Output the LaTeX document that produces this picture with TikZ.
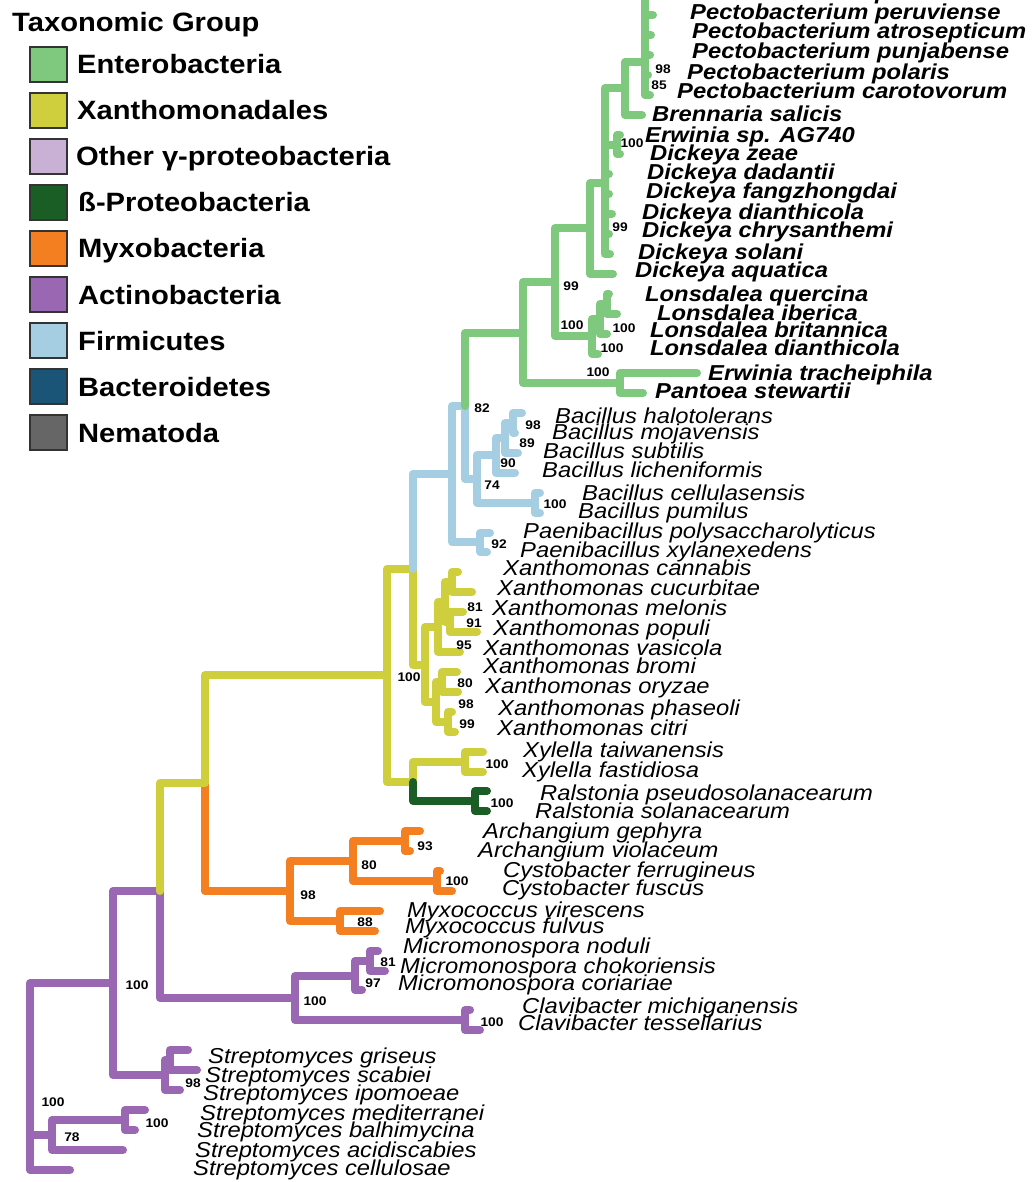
\documentclass[tikz,border=0pt]{standalone}
\usepackage{fontspec}
\setmainfont{Liberation Sans}[FakeStretch=1.1]
\usepackage{tikz}
\usetikzlibrary{positioning}

\definecolor{entero}{HTML}{7FC97F}
\definecolor{xantho}{HTML}{CFCF3E}
\definecolor{othgam}{HTML}{C9B1D6}
\definecolor{betap}{HTML}{1B5E25}
\definecolor{myxo}{HTML}{F47F21}
\definecolor{actino}{HTML}{9A67B3}
\definecolor{firmi}{HTML}{A6CEE3}
\definecolor{bactero}{HTML}{1A5577}
\definecolor{nemat}{HTML}{666666}

\begin{document}
\begin{tikzpicture}[x=1pt, y=-1pt,
  br/.style={line width=8pt, line cap=round, line join=round},
  sup/.style={font=\fontsize{12.5}{13}\selectfont\bfseries, inner sep=0pt},
  tx/.style={anchor=base west, inner sep=0pt, font=\fontsize{21.6}{24}\selectfont\itshape},
  txb/.style={tx, font=\fontsize{21.6}{24}\selectfont\bfseries\itshape},
  key/.style={draw=black!80, line width=2pt, minimum width=37pt, minimum height=35pt, inner sep=0pt},
  keylab/.style={anchor=base west, inner sep=0pt, font=\fontsize{26.5}{30}\selectfont\bfseries},
]
\useasboundingbox (0,0) rectangle (1033,1182);

% legend
\node[keylab, anchor=base west] (ttl) at (12,32) {Taxonomic Group};
\node[key, fill=entero] (k1) at (48.5,64.5) {};
\node[key, fill=xantho,  below=9pt of k1] (k2) {};
\node[key, fill=othgam,  below=9pt of k2] (k3) {};
\node[key, fill=betap,   below=9pt of k3] (k4) {};
\node[key, fill=myxo,    below=9pt of k4] (k5) {};
\node[key, fill=actino,  below=9pt of k5] (k6) {};
\node[key, fill=firmi,   below=9pt of k6] (k7) {};
\node[key, fill=bactero, below=9pt of k7] (k8) {};
\node[key, fill=nemat,   below=9pt of k8] (k9) {};
\node[keylab] (l1) at ([xshift=9pt, yshift=-9.5pt]k1.east) {Enterobacteria};
\node[keylab] (l2) at ([xshift=9pt, yshift=-9.5pt]k2.east) {Xanthomonadales};
\node[keylab] (l3) at ([xshift=8pt, yshift=-9.5pt]k3.east) {Other γ-proteobacteria};
\node[keylab] (l4) at ([xshift=10pt, yshift=-9.5pt]k4.east) {ß-Proteobacteria};
\node[keylab] (l5) at ([xshift=10pt, yshift=-9.5pt]k5.east) {Myxobacteria};
\node[keylab] (l6) at ([xshift=10pt, yshift=-9.5pt]k6.east) {Actinobacteria};
\node[keylab] (l7) at ([xshift=10pt, yshift=-9.5pt]k7.east) {Firmicutes};
\node[keylab] (l8) at ([xshift=10pt, yshift=-9.5pt]k8.east) {Bacteroidetes};
\node[keylab] (l9) at ([xshift=10pt, yshift=-9.5pt]k9.east) {Nematoda};

% tree: each child is drawn from its parent with |-
\draw[br, actino]
  (30,1096) |- (113,983)  (30,1096) |- (52,1135)  (30,1096) |- (70,1170)
  (52,1135) |- (125,1120) (52,1135) |- (123,1150)
  (125,1120) |- (145,1110) (125,1120) |- (135,1130)
  (113,983) |- (160,891)  (113,983) |- (165,1075)
  (165,1075) |- (170,1060) (165,1075) |- (180,1090)
  (170,1060) |- (188,1050) (170,1060) |- (197,1070)
  (160,891) |- (295,998)
  (295,998) |- (355,976)  (295,998) |- (465,1020)
  (355,976) |- (370,961)  (355,976) |- (362,990)
  (370,961) |- (378,951)  (370,961) |- (385,971)
  (465,1020) |- (470,1010) (465,1020) |- (480,1030);
\draw[br, myxo]
  (205,783) |- (290,891)
  (290,891) |- (353,861)  (290,891) |- (340,921)
  (353,861) |- (405,841)  (353,861) |- (437,881)
  (405,841) |- (420,831)  (405,841) |- (410,851)
  (437,881) |- (440,871)  (437,881) |- (452,891)
  (340,921) |- (380,911)  (340,921) |- (375,931);
\draw[br, xantho]
  (160,891) |- (205,783)
  (205,783) |- (387,675)
  (387,675) |- (413,569)  (387,675) |- (413,782)
  (413,782) |- (465,762)
  (465,762) |- (483,752)  (465,762) |- (483,772)
  (413,569) |- (425,665)
  (425,665) |- (438,627)  (425,665) |- (436,702)
  (438,627) |- (445,602)  (438,627) |- (460,652)
  (445,602) |- (452,582)  (445,602) |- (450,622)
  (452,582) |- (458,572)  (452,582) |- (472,592)
  (450,622) |- (463,612)  (450,622) |- (477,632)
  (436,702) |- (442,682)  (436,702) |- (448,722)
  (442,682) |- (457,672)  (442,682) |- (458,692)
  (448,722) |- (452,712)  (448,722) |- (455,732);
\draw[br, betap]
  (413,782) |- (475,801)
  (475,801) |- (487,791)  (475,801) |- (487,811);
\draw[br, firmi]
  (413,569) |- (452,474)
  (452,474) |- (465,406)  (452,474) |- (480,542)
  (480,542) |- (490,533)  (480,542) |- (487,552)
  (465,406) |- (477,479)
  (477,479) |- (496,455)  (477,479) |- (535,503)
  (496,455) |- (505,438)  (496,455) |- (515,473)
  (505,438) |- (513,423)  (505,438) |- (518,453)
  (513,423) |- (522,413)  (513,423) |- (515,433)
  (535,503) |- (540,493)  (535,503) |- (540,513);
\draw[br, entero]
  (465,406) |- (523,333)
  (523,333) |- (555,282)  (523,333) |- (620,383)
  (620,383) |- (697,373)  (620,383) |- (643,393)
  (555,282) |- (590,228)  (555,282) |- (592,336)
  (592,336) |- (600,319)  (592,336) |- (598,354)
  (600,319) |- (607,304)  (600,319) |- (607,334)
  (607,304) |- (609,294)  (607,304) |- (617,314)
  (590,228) |- (605,183)  (590,228) |- (613,274)
  (605,183) |- (625,88)   (605,183) |- (617,145)
  (605,183) |- (609,174)  (605,183) |- (609,194)
  (605,183) |- (612,214)  (605,183) |- (609,234)
  (605,183) |- (610,254)
  (617,145) |- (620,135)  (617,145) |- (620,154)
  (625,88) |- (645,62)    (625,88) |- (642,115)
  (645,62) |- (650,-15)   (645,62) |- (653,15)
  (645,62) |- (651,35)    (645,62) |- (650,55)
  (645,62) |- (648,75)    (645,62) |- (650,95);

% support values
\node[sup] (b1) at (663,69) {98};
\node[sup] (b2) at (659,85) {85};
\node[sup] (b3) at (632,143) {100};
\node[sup] (b4) at (620,227) {99};
\node[sup] (b5) at (571,286) {99};
\node[sup] (b6) at (572,325) {100};
\node[sup] (b7) at (624,328) {100};
\node[sup] (b8) at (612,348) {100};
\node[sup] (b9) at (598,372) {100};
\node[sup] (b10) at (482,408) {82};
\node[sup] (b11) at (533,425) {98};
\node[sup] (b12) at (527,443) {89};
\node[sup] (b13) at (508,463) {90};
\node[sup] (b14) at (492,485) {74};
\node[sup] (b15) at (555,504) {100};
\node[sup] (b16) at (499,544) {92};
\node[sup] (b17) at (475,607) {81};
\node[sup] (b18) at (474,623) {91};
\node[sup] (b19) at (464,645) {95};
\node[sup] (b20) at (409,677) {100};
\node[sup] (b21) at (465,683) {80};
\node[sup] (b22) at (466,704) {98};
\node[sup] (b23) at (467,724) {99};
\node[sup] (b24) at (497,764) {100};
\node[sup] (b25) at (502,803) {100};
\node[sup] (b26) at (425,846) {93};
\node[sup] (b27) at (369,865) {80};
\node[sup] (b28) at (457,881) {100};
\node[sup] (b29) at (308,895) {98};
\node[sup] (b30) at (365,922) {88};
\node[sup] (b31) at (388,962) {81};
\node[sup] (b32) at (373,983) {97};
\node[sup] (b33) at (315,1001) {100};
\node[sup] (b34) at (492,1022) {100};
\node[sup] (b35) at (137,985) {100};
\node[sup] (b36) at (193,1083) {98};
\node[sup] (b37) at (53,1102) {100};
\node[sup] (b38) at (157,1123) {100};
\node[sup] (b39) at (72,1137) {78};

% tip labels
\node[txb] (pparm) at (690,0) {Pectobacterium parmentieri};
\node[txb] (pperu) at (690,20) {Pectobacterium peruviense};
\node[txb] (patro) at (692,39) {Pectobacterium atrosepticum};
\node[txb] (ppunj) at (692,59) {Pectobacterium punjabense};
\node[txb] (ppola) at (687,80) {Pectobacterium polaris};
\node[txb] (pcaro) at (677,99) {Pectobacterium carotovorum};
\node[txb] (bsali) at (652,122) {Brennaria salicis};
\node[txb] (eag74) at (645,143) {Erwinia sp. AG740};
\node[txb] (dzeae) at (650,161) {Dickeya zeae};
\node[txb] (ddada) at (647,180) {Dickeya dadantii};
\node[txb] (dfang) at (646,199) {Dickeya fangzhongdai};
\node[txb] (ddian) at (642,220) {Dickeya dianthicola};
\node[txb] (dchry) at (642,238) {Dickeya chrysanthemi};
\node[txb] (dsola) at (638,259) {Dickeya solani};
\node[txb] (daqua) at (635,277) {Dickeya aquatica};
\node[txb] (lquer) at (645,301) {Lonsdalea quercina};
\node[txb] (liber) at (657,320) {Lonsdalea iberica};
\node[txb] (lbrit) at (650,337) {Lonsdalea britannica};
\node[txb] (ldian) at (650,355) {Lonsdalea dianthicola};
\node[txb] (etrac) at (708,380) {Erwinia tracheiphila};
\node[txb] (pstew) at (655,398) {Pantoea stewartii};
\node[tx] (bhalo) at (555,423) {Bacillus halotolerans};
\node[tx] (bmoja) at (552,439) {Bacillus mojavensis};
\node[tx] (bsubt) at (543,458) {Bacillus subtilis};
\node[tx] (blich) at (542,477) {Bacillus licheniformis};
\node[tx] (bcell) at (582,500) {Bacillus cellulasensis};
\node[tx] (bpumi) at (578,518) {Bacillus pumilus};
\node[tx] (ppoly) at (523,538) {Paenibacillus polysaccharolyticus};
\node[tx] (pxyla) at (520,557) {Paenibacillus xylanexedens};
\node[tx] (xcann) at (503,575) {Xanthomonas cannabis};
\node[tx] (xcucu) at (497,595) {Xanthomonas cucurbitae};
\node[tx] (xmelo) at (492,615) {Xanthomonas melonis};
\node[tx] (xpopu) at (493,635) {Xanthomonas populi};
\node[tx] (xvasi) at (483,655) {Xanthomonas vasicola};
\node[tx] (xbrom) at (483,673) {Xanthomonas bromi};
\node[tx] (xoryz) at (485,693) {Xanthomonas oryzae};
\node[tx] (xphas) at (498,715) {Xanthomonas phaseoli};
\node[tx] (xcitr) at (497,735) {Xanthomonas citri};
\node[tx] (ytaiw) at (523,757) {Xylella taiwanensis};
\node[tx] (yfast) at (522,777) {Xylella fastidiosa};
\node[tx] (rpseu) at (540,800) {Ralstonia pseudosolanacearum};
\node[tx] (rsola) at (535,818) {Ralstonia solanacearum};
\node[tx] (ageph) at (483,838) {Archangium gephyra};
\node[tx] (aviol) at (478,857) {Archangium violaceum};
\node[tx] (cferr) at (503,877) {Cystobacter ferrugineus};
\node[tx] (cfusc) at (502,895) {Cystobacter fuscus};
\node[tx] (mvire) at (407,917) {Myxococcus virescens};
\node[tx] (mfulv) at (405,933) {Myxococcus fulvus};
\node[tx] (mnodu) at (403,953) {Micromonospora noduli};
\node[tx] (mchok) at (400,973) {Micromonospora chokoriensis};
\node[tx] (mcori) at (398,990) {Micromonospora coriariae};
\node[tx] (cmich) at (522,1013) {Clavibacter michiganensis};
\node[tx] (ctess) at (518,1030) {Clavibacter tessellarius};
\node[tx] (sgris) at (208,1063) {Streptomyces griseus};
\node[tx] (sscab) at (205,1082) {Streptomyces scabiei};
\node[tx] (sipom) at (203,1100) {Streptomyces ipomoeae};
\node[tx] (smedi) at (200,1120) {Streptomyces mediterranei};
\node[tx] (sbalh) at (197,1137) {Streptomyces balhimycina};
\node[tx] (sacid) at (195,1157) {Streptomyces acidiscabies};
\node[tx] (scell) at (193,1175) {Streptomyces cellulosae};
\end{tikzpicture}
\end{document}
